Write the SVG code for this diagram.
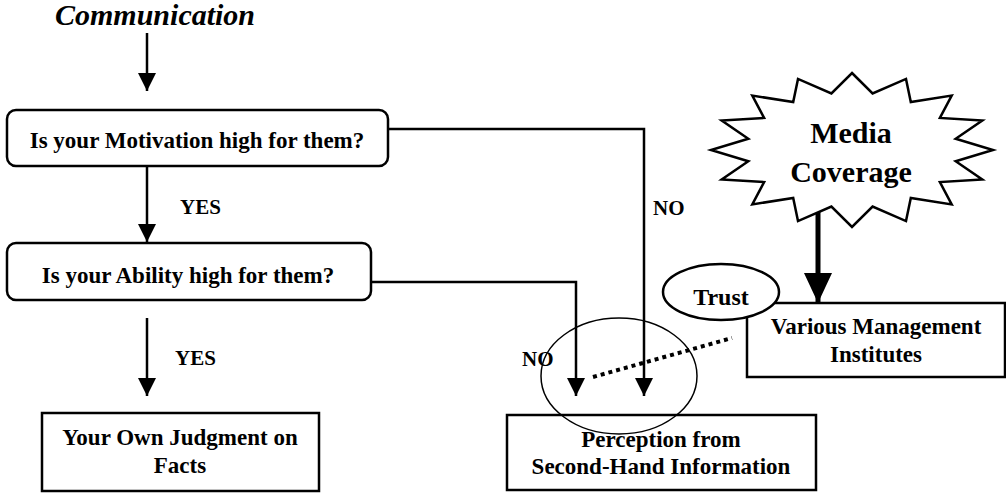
<svg xmlns="http://www.w3.org/2000/svg" width="1006" height="494" viewBox="0 0 1006 494">
<style>
  text { font-family: "Liberation Serif", "Times New Roman", serif; font-weight: bold; fill: #000; }
  .box { fill: #fff; stroke: #000; stroke-width: 2.5; }
  .lbl { font-size: 23px; text-anchor: middle; }
  .small { font-size: 21px; }
  .conn { fill: none; stroke: #000; stroke-width: 2.5; }
</style>
<defs>
  <marker id="arr" markerUnits="userSpaceOnUse" markerWidth="18" markerHeight="20" refX="18" refY="9" orient="auto" viewBox="0 0 18 18">
    <path d="M0,0 L18,9 L0,18 Z" fill="#000"/>
  </marker>
  <marker id="arrBig" markerUnits="userSpaceOnUse" markerWidth="30" markerHeight="28" refX="30" refY="14" orient="auto" viewBox="0 0 30 28">
    <path d="M0,0 L30,14 L0,28 Z" fill="#000"/>
  </marker>
</defs>
<rect width="1006" height="494" fill="#fff"/>

<g id="connectors">
  <line class="conn" x1="147" y1="33" x2="147" y2="91" marker-end="url(#arr)"/>
  <line class="conn" x1="147" y1="166" x2="147" y2="242" marker-end="url(#arr)"/>
  <line class="conn" x1="147" y1="318" x2="147" y2="396" marker-end="url(#arr)"/>
  <polyline class="conn" points="388,129 644,129 644,396" marker-end="url(#arr)"/>
  <polyline class="conn" points="371,282 576,282 576,396" marker-end="url(#arr)"/>
  <line x1="818" y1="208" x2="818" y2="303" stroke="#000" stroke-width="5" marker-end="url(#arrBig)"/>
  <line x1="593" y1="377" x2="732" y2="338" stroke="#000" stroke-width="4" stroke-dasharray="4 4"/>
  <text class="small" x="180" y="214">YES</text>
  <text class="small" x="175" y="365">YES</text>
  <text class="small" x="653" y="215">NO</text>
  <text class="small" x="522" y="366">NO</text>
</g>

<g id="communication">
  <text x="55" y="25" font-size="30" font-style="italic">Communication</text>
</g>

<g id="motivation">
  <rect class="box" x="7" y="110" width="381" height="56" rx="9"/>
  <text class="lbl" x="197" y="148">Is your Motivation high for them?</text>
</g>

<g id="ability">
  <rect class="box" x="7" y="243" width="364" height="57" rx="9"/>
  <text class="lbl" x="188" y="283">Is your Ability high for them?</text>
</g>

<g id="judgment">
  <rect class="box" x="42" y="413" width="277" height="78"/>
  <text class="lbl" x="180" y="445">Your Own Judgment on</text>
  <text class="lbl" x="180" y="473">Facts</text>
</g>

<g id="perception">
  <rect class="box" x="507" y="415" width="309" height="75"/>
  <text class="lbl" x="661" y="447">Perception from</text>
  <text class="lbl" x="661" y="474">Second-Hand Information</text>
</g>

<g id="institutes">
  <rect class="box" x="747" y="303" width="258" height="74"/>
  <text class="lbl" x="876" y="334">Various Management</text>
  <text class="lbl" x="876" y="362">Institutes</text>
</g>

<g id="trust">
  <ellipse cx="721" cy="292" rx="58" ry="28" fill="#fff" stroke="#000" stroke-width="2.5"/>
  <text x="721" y="305" font-size="24" text-anchor="middle">Trust</text>
</g>

<g id="media">
  <polygon fill="#fff" stroke="#000" stroke-width="2.5" stroke-linejoin="miter" points="852,73 872.6,93.4 906,78.9 910.8,102 951.7,95.6 939.9,117.9 982.3,120.5 955.7,138.7 993,150 955.7,161.3 982.3,179.5 939.9,182.1 951.7,204.4 910.8,198 906,221.1 872.6,206.6 852,227 831.4,206.6 798,221.1 793.2,198 752.3,204.4 764.1,182.1 721.7,179.5 748.3,161.3 711,150 748.3,138.7 721.7,120.5 764.1,117.9 752.3,95.6 793.2,102 798,78.9 831.4,93.4"/>
  <text x="851" y="143" font-size="30" text-anchor="middle">Media</text>
  <text x="851" y="182" font-size="30" text-anchor="middle">Coverage</text>
</g>

<g id="focus-ellipse">
  <ellipse cx="619" cy="376" rx="78" ry="58" fill="none" stroke="#000" stroke-width="1.5"/>
</g>
</svg>
